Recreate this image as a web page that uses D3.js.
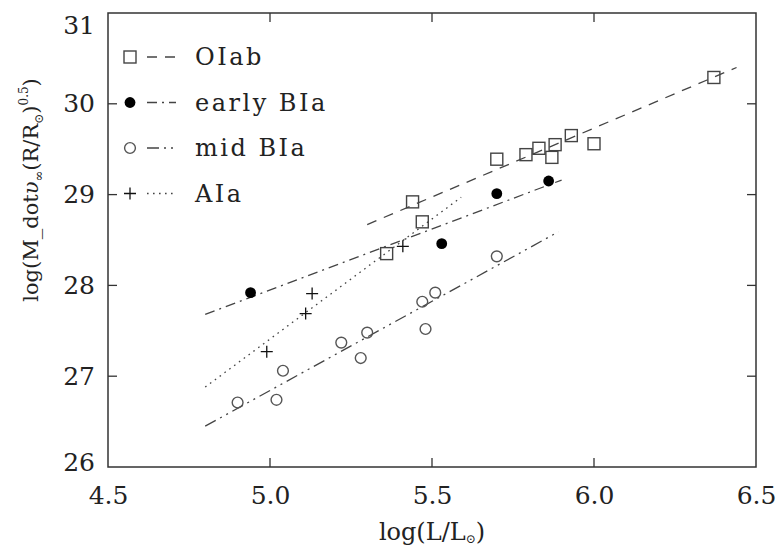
<!DOCTYPE html>
<html>
<head>
<meta charset="utf-8">
<script src="https://cdn.jsdelivr.net/npm/d3@7"></script>
<style>
  html, body { margin: 0; padding: 0; background: #fff; }
  svg { display: block; }
  text { font-family: "DejaVu Serif", "Liberation Serif", serif; fill: #222; }
</style>
</head>
<body>
<svg id="chart" width="779" height="550"></svg>
<script>
// Wind momentum–luminosity data, log(L/Lsun) vs log(Mdot v_inf (R/Rsun)^0.5)
const oiabL   = [5.36, 5.44, 5.47, 5.70, 5.79, 5.83, 5.88, 5.87, 5.93, 6.00, 6.37];
const oiabD   = [28.35, 28.92, 28.70, 29.39, 29.44, 29.51, 29.55, 29.41, 29.65, 29.56, 30.29];

const earlyL  = [4.94, 5.53, 5.70, 5.86];
const earlyD  = [27.92, 28.46, 29.01, 29.15];

const midL    = [4.90, 5.02, 5.04, 5.22, 5.28, 5.30, 5.47, 5.51, 5.48, 5.70];
const midD    = [26.71, 26.74, 27.06, 27.37, 27.20, 27.48, 27.82, 27.92, 27.52, 28.32];

const aiaL    = [4.99, 5.11, 5.13, 5.41];
const aiaD    = [27.27, 27.69, 27.91, 28.43];

// Regression line end points [logL, logD]
const fitOIab  = [[5.30, 28.67], [6.44, 30.40]];
const fitEarly = [[4.80, 27.68], [5.90, 29.16]];
const fitMid   = [[4.80, 26.45], [5.89, 28.59]];
const fitAIa   = [[4.80, 26.88], [5.59, 28.97]];

const xTicks = [4.5, 5.0, 5.5, 6.0, 6.5];
const yTicks = [26, 27, 28, 29, 30, 31];

const legendNames = ["OIab", "early BIa", "mid BIa", "AIa"];

const svg = d3.select("#chart");
const L = 108, R = 756, T = 13, B = 467;

const x = d3.scaleLinear().domain([4.5, 6.5]).range([L, R]);
const y = d3.scaleLinear().domain([26, 31]).range([B, T]);

const ink = "#333";

// Frame
svg.append("rect")
  .attr("x", L).attr("y", T).attr("width", R - L).attr("height", B - T)
  .attr("fill", "none").attr("stroke", ink).attr("stroke-width", 1.5);

// Axes with inward ticks on all four sides
const inner = xTicks.slice(1, -1);
const innerY = yTicks.slice(1, -1);

const gx = svg.append("g").attr("transform", `translate(0,${B})`)
  .call(d3.axisBottom(x).tickValues(xTicks).tickFormat(d3.format(".1f"))
        .tickSizeInner(0).tickSizeOuter(0).tickPadding(19));
gx.select(".domain").remove();
gx.selectAll("text").attr("font-size", 25).attr("font-family", "DejaVu Serif").attr("fill", "#222");

const gy = svg.append("g").attr("transform", `translate(${L},0)`)
  .call(d3.axisLeft(y).tickValues(yTicks).tickFormat(d3.format("d"))
        .tickSizeInner(0).tickSizeOuter(0).tickPadding(13));
gy.select(".domain").remove();
gy.selectAll("text").attr("font-size", 25).attr("font-family", "DejaVu Serif").attr("fill", "#222");
gy.selectAll(".tick").filter(d => d === 31).select("text").attr("dy", "0.8em");
gy.selectAll(".tick").filter(d => d === 26).select("text").attr("dy", "0.15em");

const tickLen = 9;
const tg = svg.append("g").attr("stroke", ink).attr("stroke-width", 1.3);
inner.forEach(v => {
  tg.append("line").attr("x1", x(v)).attr("x2", x(v)).attr("y1", B).attr("y2", B - tickLen);
  tg.append("line").attr("x1", x(v)).attr("x2", x(v)).attr("y1", T).attr("y2", T + tickLen);
});
innerY.forEach(v => {
  tg.append("line").attr("y1", y(v)).attr("y2", y(v)).attr("x1", L).attr("x2", L + tickLen);
  tg.append("line").attr("y1", y(v)).attr("y2", y(v)).attr("x1", R).attr("x2", R - tickLen);
});

// Axis titles
const xt = svg.append("text").attr("x", 432).attr("y", 540).attr("text-anchor", "middle")
  .attr("font-size", 24);
xt.append("tspan").text("log(L/L");
xt.append("tspan").text("\u2299").attr("font-size", 12).attr("dy", 3);
xt.append("tspan").text(")").attr("dy", -3);

const yt = svg.append("text")
  .attr("transform", "translate(38,190) rotate(-90)")
  .attr("text-anchor", "middle").attr("font-size", 21);
yt.append("tspan").text("log(M_dot");
yt.append("tspan").text("\u03C5").attr("font-style", "italic");
yt.append("tspan").text("\u221E").attr("font-size", 13).attr("dy", 5);
yt.append("tspan").text("(R/R").attr("dy", -5);
yt.append("tspan").text("\u2299").attr("font-size", 12).attr("dy", 5);
yt.append("tspan").text(")").attr("dy", -5);
yt.append("tspan").text("0.5").attr("font-size", 12).attr("dy", -10);
yt.append("tspan").text(")").attr("dy", 10);

// Line styles
const dashes = {
  oiab: "10,8",
  early: "10,5,2,5",
  mid: "12,5,2,5,2,5",
  aia: "1.6,4.4"
};

const line = d3.line().x(d => x(d[0])).y(d => y(d[1]));
const fits = [[fitOIab, dashes.oiab], [fitEarly, dashes.early], [fitMid, dashes.mid], [fitAIa, dashes.aia]];
fits.forEach(([pts, dash]) => {
  svg.append("path").attr("d", line(pts)).attr("fill", "none")
    .attr("stroke", "#444").attr("stroke-width", 1.3).attr("stroke-dasharray", dash);
});

// Marker drawers
function square(g, cx, cy) {
  g.append("rect").attr("x", cx - 6).attr("y", cy - 6).attr("width", 12).attr("height", 12)
    .attr("fill", "none").attr("stroke", "#444").attr("stroke-width", 1.4);
}
function dot(g, cx, cy) {
  g.append("circle").attr("cx", cx).attr("cy", cy).attr("r", 5.4).attr("fill", "#000");
}
function ring(g, cx, cy) {
  g.append("circle").attr("cx", cx).attr("cy", cy).attr("r", 5.4)
    .attr("fill", "none").attr("stroke", "#555").attr("stroke-width", 1.4);
}
function cross(g, cx, cy) {
  g.append("path").attr("d", `M${cx - 6},${cy}H${cx + 6}M${cx},${cy - 6}V${cy + 6}`)
    .attr("stroke", "#111").attr("stroke-width", 1.3);
}

const pts = svg.append("g");
oiabL.forEach((v, i) => square(pts, x(v), y(oiabD[i])));
earlyL.forEach((v, i) => dot(pts, x(v), y(earlyD[i])));
midL.forEach((v, i) => ring(pts, x(v), y(midD[i])));
aiaL.forEach((v, i) => cross(pts, x(v), y(aiaD[i])));

// Legend
const lg = svg.append("g");
const markers = [square, dot, ring, cross];
const legDash = [dashes.oiab, dashes.early, dashes.mid, dashes.aia];
legendNames.forEach((name, i) => {
  const cy = 57 + i * 45.5;
  markers[i](lg, 130, cy);
  lg.append("line").attr("x1", 147).attr("x2", 176).attr("y1", cy).attr("y2", cy)
    .attr("stroke", "#444").attr("stroke-width", 1.3).attr("stroke-dasharray", legDash[i]);
  lg.append("text").attr("x", 195).attr("y", cy + 8).attr("font-size", 24)
    .attr("letter-spacing", 2.5).text(name);
});
</script>
</body>
</html>
